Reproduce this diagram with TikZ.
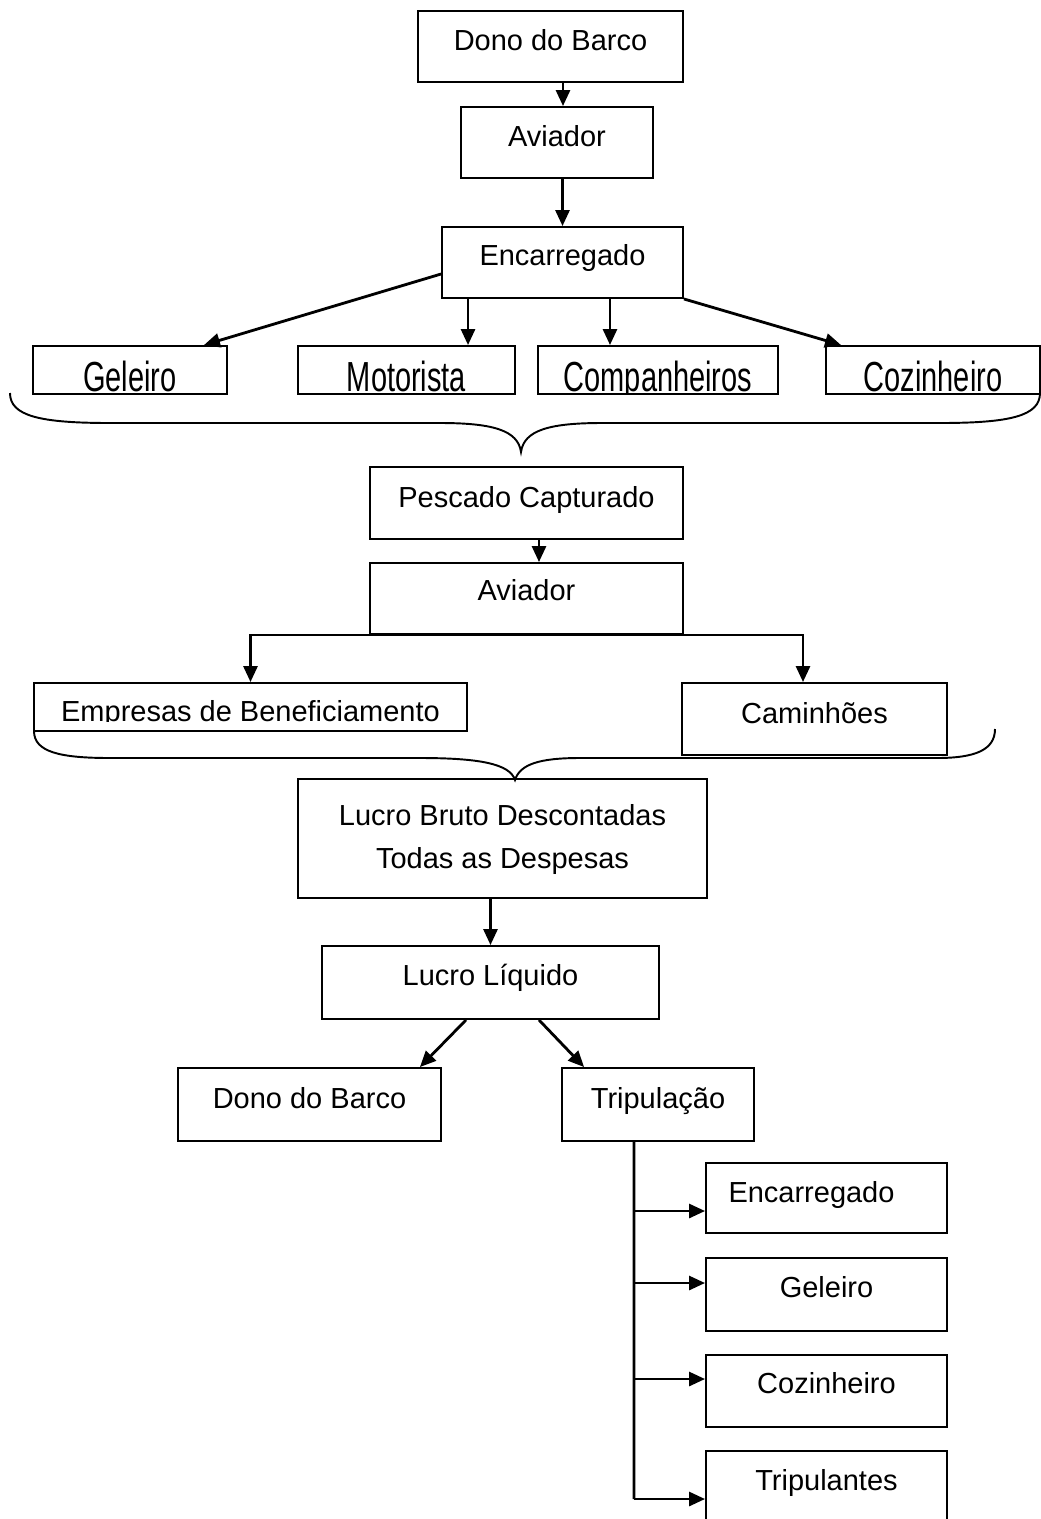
\documentclass[tikz,border=0pt]{standalone}
\usepackage{fontspec}
\setmainfont{Liberation Sans}
\usepackage{graphicx}
\usetikzlibrary{arrows.meta}

\tikzset{
  caixa/.style={draw, line width=1.1pt, inner sep=0pt, text height=12pt, text depth=7pt},
  seta/.style={line width=1.6pt, -{Triangle[length=0.32cm,width=0.28cm]}},
  linha/.style={line width=1.6pt},
  chave/.style={line width=1.1pt},
  % texto esticado e cortado no fundo da caixa
  esticado/.style={path picture={\node[draw=none,anchor=base,inner sep=0pt,minimum width=0pt,minimum height=0pt,text height=,text depth=] at ([yshift=1.2pt]path picture bounding box.south) {\scalebox{1}[1.45]{#1}};}},
  cortado/.style={path picture={\clip ([yshift=0.2cm]path picture bounding box.south west) rectangle (path picture bounding box.north east);
    \node[draw=none,anchor=base,inner sep=0pt,minimum width=0pt,minimum height=0pt,text height=,text depth=] at ([yshift=0.2cm]path picture bounding box.south) {#1};}}
}

\begin{document}
\begin{tikzpicture}[x=0.02cm, y=-0.02cm, font=\fontsize{16.5}{24.4}\selectfont]
  \useasboundingbox (0,0) rectangle (1041,1519);

  % parte de cima
  \node[caixa, minimum width=5.3cm, minimum height=1.42cm] (dono) at (550.5,46.5) {Dono do Barco};
  \node[caixa, minimum width=3.84cm, minimum height=1.42cm] (aviador) at (557,142.5) {Aviador};
  \node[caixa, minimum width=4.82cm, minimum height=1.42cm, text depth=9pt] (encarregado) at (562.5,262.5) {Encarregado};

  \node[caixa, minimum width=3.88cm, minimum height=0.96cm, esticado=Geleiro] (geleiro) at (130,370) {};
  \node[caixa, minimum width=4.34cm, minimum height=0.96cm, esticado=Motorista] (motorista) at (406.5,370) {};
  \node[caixa, minimum width=4.8cm, minimum height=0.96cm, esticado=Companheiros] (companheiros) at (658,370) {};
  \node[caixa, minimum width=4.28cm, minimum height=0.96cm, esticado=Cozinheiro] (cozinheiro) at (933,370) {};

  \draw[seta] ([xshift=0.25cm]dono.south) -- ([xshift=0.25cm]dono.south |- aviador.north);
  \draw[seta] (encarregado.north |- aviador.south) -- (encarregado.north);
  \draw[seta] ([yshift=-0.23cm]encarregado.west) -- ([xshift=-0.48cm]geleiro.north east);
  \draw[seta] ([xshift=-1.89cm]encarregado.south) -- ([xshift=-1.89cm]encarregado.south |- motorista.north);
  \draw[seta] ([xshift=0.95cm]encarregado.south) -- ([xshift=0.95cm]encarregado.south |- companheiros.north);
  \draw[seta] (encarregado.south east) -- ([xshift=0.32cm]cozinheiro.north west);

  \draw[chave] (10,393) .. controls (10,416) and (40,423) .. (110,423) -- (440,423)
    .. controls (492,423) and (518,430) .. (521,452)
    .. controls (524,430) and (550,423) .. (602,423) -- (940,423)
    .. controls (1010,423) and (1040,416) .. (1040,393);

  % meio
  \node[caixa, minimum width=6.26cm, minimum height=1.44cm] (pescado) at (526.5,503) {Pescado Capturado};
  \node[caixa, minimum width=6.26cm, minimum height=1.42cm, text depth=9.5pt] (aviador2) at (526.5,598.5) {Aviador};
  \node[caixa, minimum width=8.66cm, minimum height=0.96cm, cortado=Empresas de Beneficiamento] (empresas) at (250.5,707) {};
  \node[caixa, minimum width=5.3cm, minimum height=1.44cm] (caminhoes) at (814.5,719) {Caminhões};

  \draw[seta] ([xshift=0.25cm]pescado.south) -- ([xshift=0.25cm]pescado.south |- aviador2.north);
  \draw[seta] (aviador2.south) -| (empresas.north);
  \draw[seta] (aviador2.south) -| ([xshift=-0.23cm]caminhoes.north);

  \draw[chave] (34,731) .. controls (34,752) and (60,758) .. (110,758) -- (420,758)
    .. controls (480,758) and (510,764) .. (515,780)
    .. controls (520,764) and (540,758) .. (580,758) -- (937,758)
    .. controls (975,758) and (995,750) .. (995,729);

  % parte de baixo
  \node[caixa, minimum width=8.18cm, minimum height=2.38cm, align=center, text height=36.4pt, text depth=2.4pt] (bruto) at (502.5,838.5) {Lucro Bruto Descontadas\\Todas as Despesas};
  \node[caixa, minimum width=6.74cm, minimum height=1.46cm, text depth=8.5pt] (liquido) at (490.5,982.5) {Lucro Líquido};
  \node[caixa, minimum width=5.26cm, minimum height=1.46cm] (dono2) at (309.5,1104.5) {Dono do Barco};
  \node[caixa, minimum width=3.84cm, minimum height=1.46cm] (tripulacao) at (658,1104.5) {Tripulação};

  \draw[seta] (bruto.south -| liquido.north) -- (liquido.north);
  \draw[seta] ([xshift=-0.49cm]liquido.south) -- ([xshift=-0.44cm]dono2.north east);
  \draw[seta] ([xshift=0.97cm]liquido.south) -- ([xshift=0.46cm]tripulacao.north west);

  \node[caixa, minimum width=4.82cm, minimum height=1.4cm] (encarregado2) at (826.5,1198) {Encarregado\hspace*{0.6cm}};
  \node[caixa, minimum width=4.82cm, minimum height=1.46cm, text depth=8.5pt] (geleiro2) at (826.5,1294.5) {Geleiro};
  \node[caixa, minimum width=4.82cm, minimum height=1.44cm, text depth=9pt] (cozinheiro2) at (826.5,1391) {Cozinheiro};
  \node[caixa, minimum width=4.82cm, minimum height=1.92cm, text depth=22pt] (tripulantes) at (826.5,1499) {Tripulantes};

  \coordinate (fim) at (634,1499);
  \draw[linha] ([xshift=-0.48cm]tripulacao.south) -- (fim);
  \draw[seta] ([yshift=-0.26cm]fim |- encarregado2.west) -- ([yshift=-0.26cm]encarregado2.west);
  \draw[seta] ([yshift=0.23cm]fim |- geleiro2.west) -- ([yshift=0.23cm]geleiro2.west);
  \draw[seta] ([yshift=0.24cm]fim |- cozinheiro2.west) -- ([yshift=0.24cm]cozinheiro2.west);
  \draw[seta] (fim) -- (tripulantes.west);
\end{tikzpicture}
\end{document}
